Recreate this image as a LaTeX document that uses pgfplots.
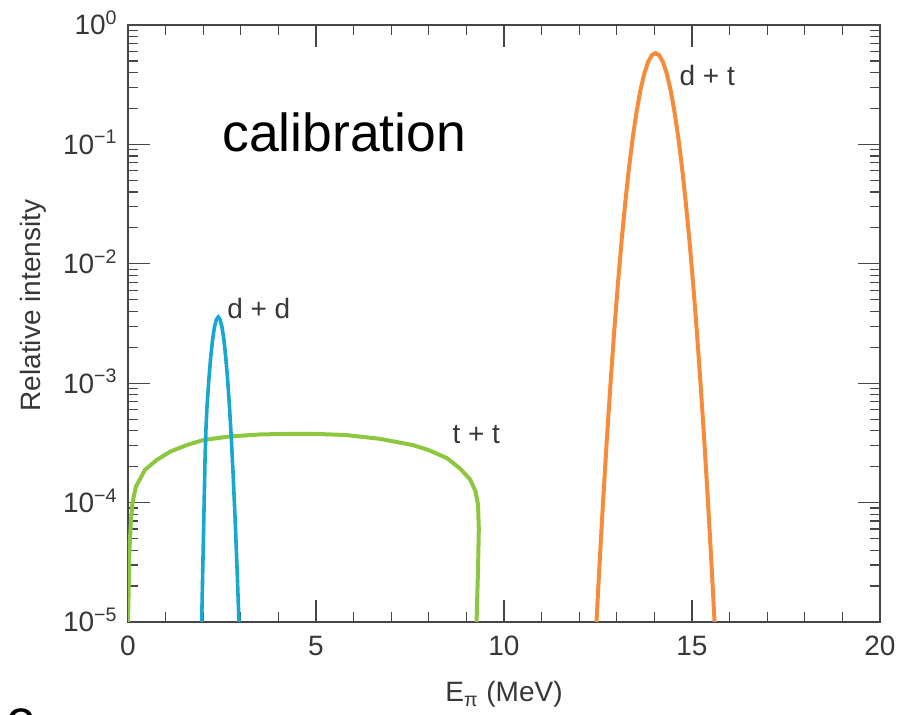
\documentclass[border=0pt]{standalone}
\usepackage{fontspec}
\setmainfont{Liberation Sans}
\usepackage{pgfplots}
\pgfplotsset{compat=1.18}
\definecolor{ttcol}{RGB}{141,198,63}
\definecolor{ddcol}{RGB}{22,168,206}
\definecolor{dtcol}{RGB}{246,140,58}
\definecolor{axcol}{RGB}{70,70,70}
\definecolor{txtcol}{RGB}{55,55,55}

\begin{document}
\begin{tikzpicture}
\useasboundingbox (-64pt,-46.5pt) rectangle (394pt,311pt);
\begin{axis}[at={(0,0)}, anchor=south west, width=376pt, height=298.5pt, scale only axis,
  ymode=log, xmin=0, xmax=20, ymin=1e-5, ymax=1,
  xtick={0,5,10,15,20}, xticklabels={0,5,10,15,20}, minor x tick num=4,
  ytick={1e-5,1e-4,1e-3,1e-2,1e-1,1},
  yticklabels={10\textsuperscript{−5},10\textsuperscript{−4},10\textsuperscript{−3},10\textsuperscript{−2},10\textsuperscript{−1},10\textsuperscript{0}},
  minor ytick={2e-5,3e-5,4e-5,5e-5,6e-5,7e-5,8e-5,9e-5,
    2e-4,3e-4,4e-4,5e-4,6e-4,7e-4,8e-4,9e-4,
    2e-3,3e-3,4e-3,5e-3,6e-3,7e-3,8e-3,9e-3,
    2e-2,3e-2,4e-2,5e-2,6e-2,7e-2,8e-2,9e-2,
    0.2,0.3,0.4,0.5,0.6,0.7,0.8,0.9},
  major tick length=11pt, minor tick length=5pt,
  axis line style={axcol, line width=0.7pt},
  every tick/.style={axcol, line width=0.6pt},
  tick label style={font=\fontsize{14}{16}\selectfont, text=txtcol},
  xticklabel style={anchor=north, inner sep=0pt, yshift=-7pt},
  yticklabel style={anchor=base east, inner sep=0pt, xshift=-5pt, yshift=-5pt},
  xlabel={E\textsubscript{π} (MeV)}, ylabel={Relative intensity},
  label style={font=\fontsize{14}{16}\selectfont, text=txtcol},
  xlabel style={at={(axis description cs:0.5,0)}, anchor=base, yshift=-40pt},
  ylabel style={at={(axis description cs:-0.126,0.53)}, anchor=center},
]
% t + t
\addplot[ttcol, line width=2pt] coordinates {
  (0.00,1e-5) (0.02,2.0e-5) (0.035,3.8e-5) (0.08,7.2e-5) (0.12,1.0e-4)
  (0.21,1.36e-4) (0.45,1.88e-4) (0.76,2.27e-4) (1.12,2.67e-4) (1.56,3.03e-4)
  (2.0,3.34e-4) (2.7,3.58e-4) (3.5,3.72e-4) (4.3,3.77e-4) (5.0,3.76e-4)
  (5.8,3.68e-4) (6.7,3.42e-4) (7.58,3.03e-4) (8.0,2.75e-4) (8.48,2.36e-4)
  (8.83,1.93e-4) (9.10,1.56e-4) (9.24,1.25e-4) (9.31,9.6e-5) (9.33,6.0e-5)
  (9.31,2.8e-5) (9.27,1e-5) (9.26,8e-6)
};
% d + d
\addplot[ddcol, line width=1.8pt] coordinates {
  (1.95,8e-6) (1.96,1e-5) (1.99,2.9e-5) (2.02,8.3e-5) (2.05,2.4e-4) (2.075,4.3e-4)
  (2.10,6.28e-4) (2.15,1.07e-3) (2.20,1.65e-3) (2.25,2.32e-3) (2.30,2.95e-3)
  (2.35,3.41e-3) (2.40,3.58e-3) (2.45,3.41e-3) (2.50,2.95e-3) (2.55,2.32e-3)
  (2.60,1.65e-3) (2.65,1.07e-3) (2.70,6.28e-4) (2.75,3.35e-4) (2.80,1.62e-4)
  (2.85,7.13e-5) (2.90,2.84e-5) (2.95,1.03e-5) (2.96,8.3e-6)
};
% d + t
\addplot[dtcol, line width=2pt] coordinates {
  (12.43,6.6e-6) (12.53,2.63e-5) (12.63,9.55e-5) (12.73,3.18e-4) (12.83,9.64e-4)
  (12.93,2.69e-3) (13.03,6.82e-3) (13.13,1.59e-2) (13.23,3.38e-2) (13.33,6.59e-2)
  (13.43,0.1175) (13.53,0.191) (13.63,0.286) (13.73,0.390) (13.83,0.488)
  (13.93,0.557) (14.03,0.582) (14.13,0.557) (14.23,0.488) (14.33,0.390)
  (14.43,0.286) (14.53,0.191) (14.63,0.1175) (14.73,6.59e-2) (14.83,3.38e-2)
  (14.93,1.59e-2) (15.03,6.82e-3) (15.13,2.69e-3) (15.23,9.64e-4) (15.33,3.18e-4)
  (15.43,9.55e-5) (15.53,2.63e-5) (15.63,6.6e-6)
};
\node[anchor=west, inner sep=0pt, text=txtcol, font=\fontsize{14}{16}\selectfont] at (axis cs:14.66,0.381) {d + t};
\node[anchor=west, inner sep=0pt, text=txtcol, font=\fontsize{14}{16}\selectfont] at (axis cs:2.63,4.22e-3) {d + d};
\node[anchor=west, inner sep=0pt, text=txtcol, font=\fontsize{14}{16}\selectfont] at (axis cs:8.62,3.75e-4) {t + t};
\node[anchor=west, inner sep=0pt, font=\fontsize{26.75}{30}\selectfont] at (axis cs:2.5,0.125) {calibration};
\end{axis}
\node[anchor=base west, inner sep=0pt, font=\fontsize{26.75}{30}\selectfont] at (-61pt,-58pt) {e};
\end{tikzpicture}
\end{document}
